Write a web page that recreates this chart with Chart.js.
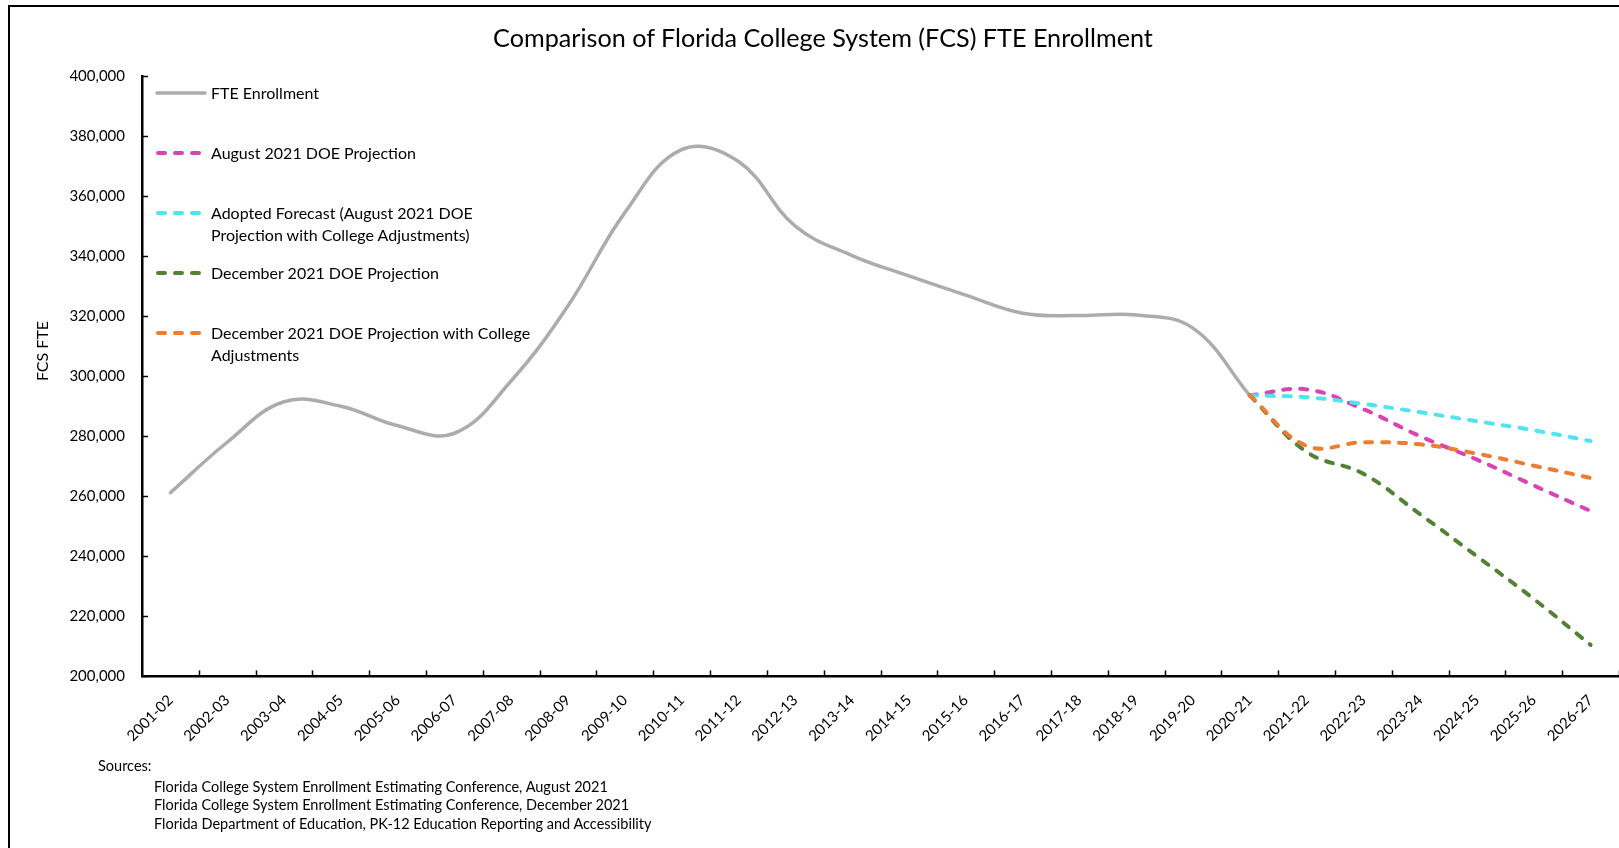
<!DOCTYPE html>
<html>
<head>
<meta charset="utf-8">
<script src="https://cdn.jsdelivr.net/npm/chart.js@4.4.1/dist/chart.umd.min.js"></script>
<style>
  html, body { margin: 0; padding: 0; background: #fff; }
  body { width: 1619px; height: 848px; position: relative; overflow: hidden; font-family: Lato, sans-serif; color: #000; }
  #frame { position: absolute; left: 8px; top: 5px; width: 1700px; height: 900px; border: 2px solid #000; box-sizing: border-box; }
  #wrap { position: absolute; left: 0; top: 0; width: 1619px; height: 848px; }
  #title { position: absolute; left: 823px; top: 22px; transform: translateX(-50%); font-size: 25.2px; line-height: 30px; white-space: nowrap; }
  .item { position: absolute; left: 155px; display: flex; align-items: flex-start; font-size: 16px; line-height: 22px; white-space: nowrap; }
  .item svg { width: 52px; height: 22px; margin-right: 4px; flex: none; }
  #sources { position: absolute; left: 98px; top: 757px; font-size: 14.5px; line-height: 18.6px; }
  #sources div.s { padding-left: 56px; }
  #sources div.h { margin-bottom: 2px; }
</style>
</head>
<body>
<div id="frame"></div>
<div id="wrap"><canvas id="chart" width="1619" height="848"></canvas></div>
<div id="title"></div>
<div id="legend"></div>
<div id="sources"></div>
<script>
const chartTitle = 'Comparison of Florida College System (FCS) FTE Enrollment'
const yTitle = 'FCS FTE'

const years = ['2001-02', '2002-03', '2003-04', '2004-05', '2005-06', '2006-07', '2007-08',
  '2008-09', '2009-10', '2010-11', '2011-12', '2012-13', '2013-14', '2014-15', '2015-16',
  '2016-17', '2017-18', '2018-19', '2019-20', '2020-21', '2021-22', '2022-23', '2023-24',
  '2024-25', '2025-26', '2026-27']

// actual FTE, 2001-02 .. 2020-21
const fteEnrollment = [261200, 278000, 291500, 290000, 283500, 281000, 298500, 323500, 354500,
  375500, 371500, 350000, 340200, 333400, 327000, 321000, 320200, 320400, 316000, 293600]

// projections, 2020-21 .. 2026-27
const aug2021Doe = [293600, 295600, 289000, 280000, 272200, 263600, 255100]
const adoptedForecast = [293600, 293000, 290800, 288000, 285000, 282000, 278400]
const dec2021Doe = [293600, 274800, 267500, 254000, 240000, 225800, 210500]
const dec2021Adjusted = [293600, 276800, 278000, 277300, 274200, 270200, 266100]

const seriesLabels = [
  ['FTE Enrollment'],
  ['August 2021 DOE Projection'],
  ['Adopted Forecast (August 2021 DOE', 'Projection with College Adjustments)'],
  ['December 2021 DOE Projection'],
  ['December 2021 DOE Projection with College', 'Adjustments'],
]
const seriesColors = ['#AFABAB', '#D944B3', '#50E3F2', '#548235', '#ED7D31']

const sources = [
  'Florida College System Enrollment Estimating Conference, August 2021',
  'Florida College System Enrollment Estimating Conference, December 2021',
  'Florida Department of Education, PK-12 Education Reporting and Accessibility',
]

const projStart = years.indexOf('2020-21')
const pad = (arr, start) => years.map((_, i) => (i >= start && i - start < arr.length ? arr[i - start] : null))

const dash = [7, 10]
const series = [fteEnrollment, aug2021Doe, adoptedForecast, dec2021Doe, dec2021Adjusted]
const datasets = series.map((arr, k) => ({
  label: seriesLabels[k].join(' '),
  data: k === 0 ? pad(arr, 0) : pad(arr, projStart),
  borderColor: seriesColors[k],
  backgroundColor: seriesColors[k],
  borderWidth: k === 0 ? 3.5 : 4,
  borderDash: k === 0 ? [] : dash,
  borderCapStyle: 'round',
  pointRadius: 0,
  tension: 0.4,
  fill: false,
}))
// draw actuals on top of the projections' first point
datasets.reverse()

// Excel style: tick marks point into the plot
const innerTicks = {
  id: 'innerTicks',
  afterDraw(chart) {
    const { ctx, scales: { x, y } } = chart
    ctx.save()
    ctx.strokeStyle = '#000'
    ctx.lineWidth = 1.5
    y.ticks.forEach((t) => {
      const py = Math.round(y.getPixelForValue(t.value)) + 0.5
      ctx.beginPath()
      ctx.moveTo(y.right, py)
      ctx.lineTo(y.right + 6, py)
      ctx.stroke()
    })
    for (let i = 1; i <= years.length; i++) {
      const px = Math.round(x.getPixelForValue(i - 0.5)) + 0.5
      ctx.beginPath()
      ctx.moveTo(px, x.top)
      ctx.lineTo(px, x.top - 6)
      ctx.stroke()
    }
    ctx.restore()
  },
}

// y axis title sits a bit above the middle of the axis
const yTitlePlugin = {
  id: 'yTitle',
  afterDraw(chart) {
    const { ctx } = chart
    ctx.save()
    ctx.translate(43, 351)
    ctx.rotate(-Math.PI / 2)
    ctx.font = '16px Lato'
    ctx.fillStyle = '#000'
    ctx.textAlign = 'center'
    ctx.textBaseline = 'middle'
    ctx.fillText(yTitle, 0, 0)
    ctx.restore()
  },
}

const font = { family: 'Lato', size: 15 }

const myChart = new Chart(document.getElementById('chart'), {
  type: 'line',
  data: { labels: years, datasets },
  options: {
    responsive: false,
    animation: false,
    layout: { padding: { left: 33, right: 0, top: 76, bottom: 96 } },
    scales: {
      x: {
        offset: true,
        grid: { display: false },
        border: { display: true, color: '#000', width: 2.5 },
        ticks: { color: '#000', font, minRotation: 45, maxRotation: 45, autoSkip: false, padding: 7 },
      },
      y: {
        min: 200000,
        max: 400000,
        grid: { display: false },
        border: { display: true, color: '#000', width: 2.5 },
        ticks: {
          stepSize: 20000,
          color: '#000',
          font,
          padding: 9,
          callback: (v) => v.toLocaleString('en-US'),
        },
        afterFit: (s) => { s.width = 109 },
      },
    },
    plugins: {
      legend: { display: false },
      title: { display: false },
      tooltip: { enabled: false },
    },
  },
  plugins: [innerTicks, yTitlePlugin],
})

document.getElementById('title').textContent = chartTitle

// legend, one row per 20,000 step
const legendEl = document.getElementById('legend')
const rowTops = [82, 142, 202, 262, 322]
seriesLabels.forEach((lines, k) => {
  const item = document.createElement('div')
  item.className = 'item'
  item.style.top = rowTops[k] + 'px'
  const da = k === 0 ? '' : `stroke-dasharray="${dash.join(' ')}"`
  item.innerHTML = `<svg viewBox="0 0 52 22"><line x1="${k === 0 ? 2 : 3}" y1="11" x2="${k === 0 ? 50 : 49}" y2="11" stroke="${seriesColors[k]}" stroke-width="${k === 0 ? 3.5 : 4}" stroke-linecap="round" ${da}/></svg>`
  const txt = document.createElement('div')
  txt.innerHTML = lines.join('<br>')
  item.appendChild(txt)
  legendEl.appendChild(item)
})

const srcEl = document.getElementById('sources')
srcEl.innerHTML = '<div class="h">Sources:</div>' + sources.map((s) => `<div class="s">${s}</div>`).join('')
</script>
</body>
</html>
